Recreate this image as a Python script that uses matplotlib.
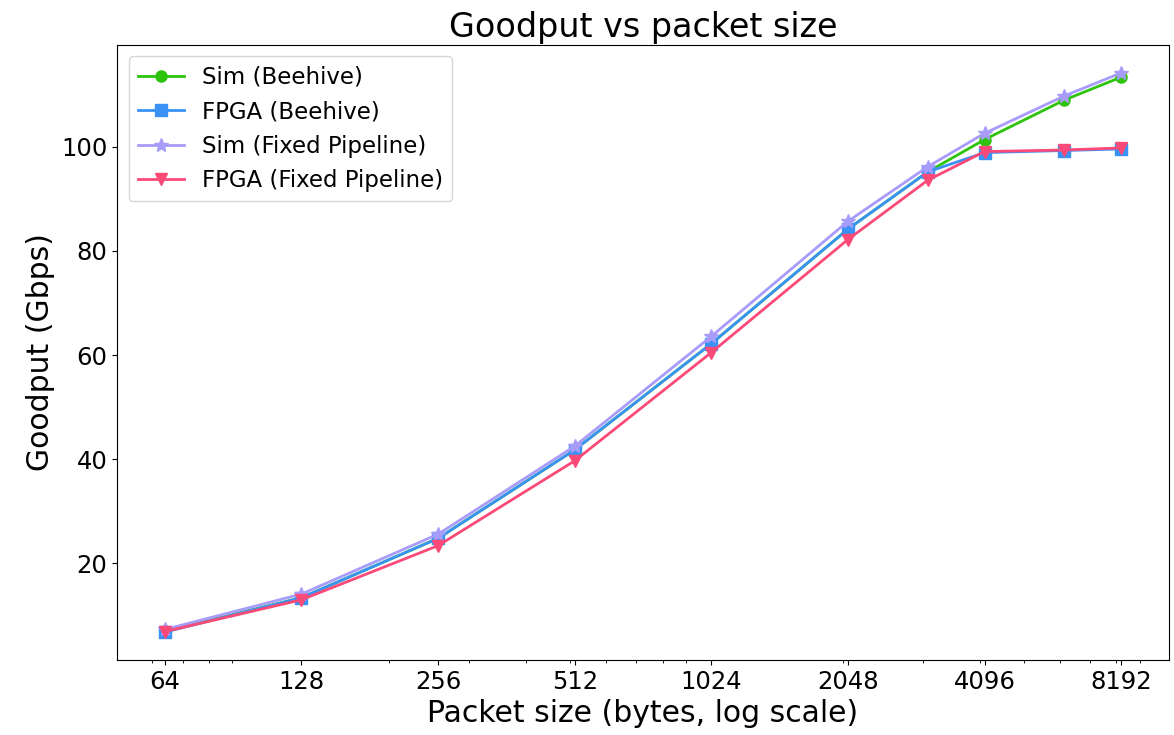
import matplotlib
matplotlib.use("Agg")
import matplotlib.pyplot as plt
from matplotlib.ticker import NullFormatter

# Packet sizes (bytes) and goodput (Gbps)
packet_sizes = [64, 128, 256, 512, 1024, 2048, 3072, 4096, 6144, 8192]
sim_beehive = [7.0, 13.4, 24.8, 41.8, 62.2, 84.2, 95.2, 101.4, 109.0, 113.4]
fpga_beehive = [6.8, 13.4, 24.8, 41.8, 62.2, 84.2, 95.2, 98.9, 99.3, 99.6]
sim_fixed = [7.3, 14.1, 25.6, 42.5, 63.6, 85.7, 96.2, 102.6, 109.8, 114.2]
fpga_fixed = [6.9, 13.0, 23.4, 39.7, 60.5, 82.2, 93.6, 99.1, 99.4, 99.8]

tick_labels = ["64", "128", "256", "512", "1024", "2048", "4096", "8192"]
tick_values = [64, 128, 256, 512, 1024, 2048, 4096, 8192]

fig, ax = plt.subplots(figsize=(11.74, 7.35), dpi=100)

ax.plot(packet_sizes, sim_beehive, marker="o", color="#2ec40e", lw=2, ms=8, label="Sim (Beehive)")
ax.plot(packet_sizes, fpga_beehive, marker="s", color="#3a92f5", lw=2, ms=8, label="FPGA (Beehive)")
ax.plot(packet_sizes, sim_fixed, marker="*", color="#a89cfb", lw=2, ms=10, label="Sim (Fixed Pipeline)")
ax.plot(packet_sizes, fpga_fixed, marker="v", color="#fb4a78", lw=2, ms=8, label="FPGA (Fixed Pipeline)")

ax.set_xscale("log")
ax.set_xticks(tick_values)
ax.set_xticklabels(tick_labels)
ax.xaxis.set_minor_formatter(NullFormatter())
ax.set_yticks([20, 40, 60, 80, 100])

ax.tick_params(axis="both", which="major", labelsize=17.5)
ax.set_xlabel("Packet size (bytes, log scale)", fontsize=21.5)
ax.set_ylabel("Goodput (Gbps)", fontsize=21.5)
ax.set_title("Goodput vs packet size", fontsize=24)
ax.legend(loc="upper left", fontsize=16.5)

plt.subplots_adjust(left=0.0997, right=0.9957, top=0.9388, bottom=0.102)
plt.savefig("out.png")
